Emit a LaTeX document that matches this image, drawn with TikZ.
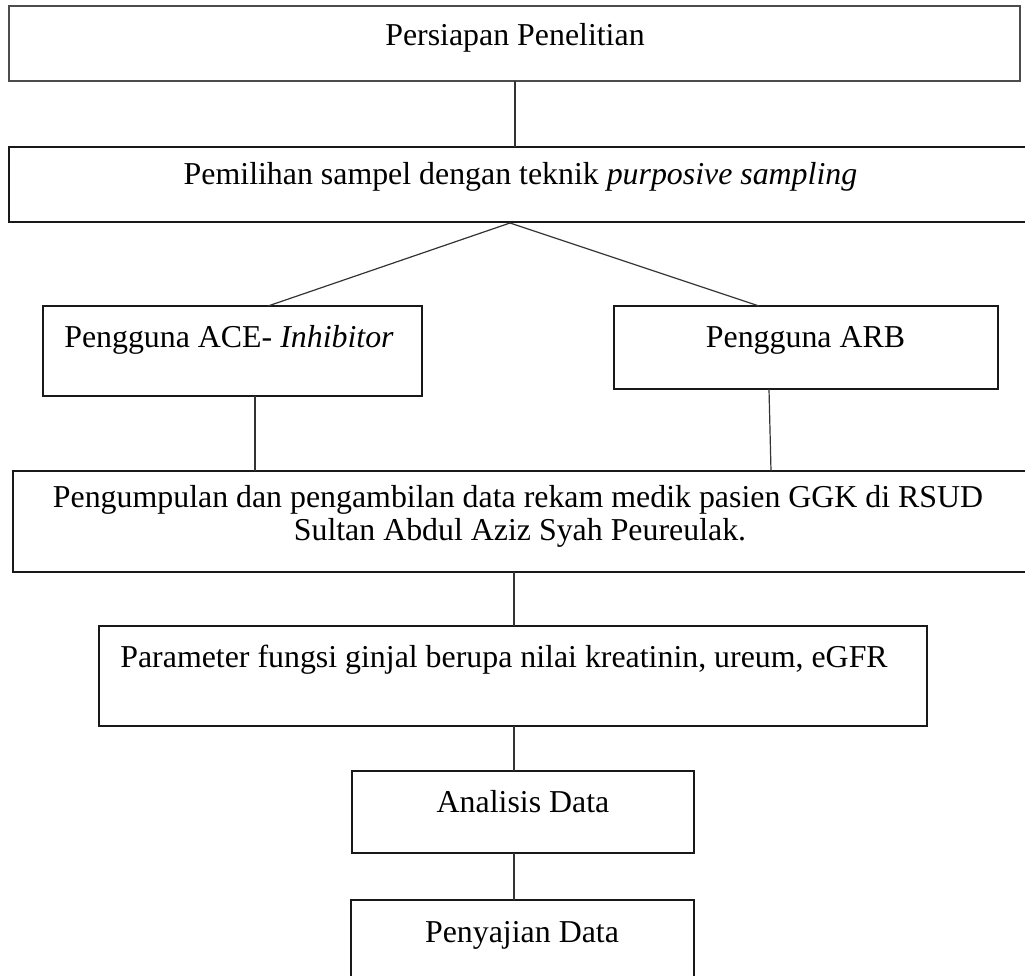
\documentclass[tikz,border=0pt]{standalone}
\usepackage{fontspec}
\setmainfont{Liberation Serif}
\usetikzlibrary{calc,fit}
\begin{document}
\begin{tikzpicture}[x=0.75pt,y=-0.75pt,
  box/.style={draw=black!90, line width=1pt, inner sep=0pt, outer sep=0pt},
  topbox/.style={box, draw=black!70, line width=1.2pt},
  txt/.style={anchor=base, inner sep=0pt, font=\fontsize{23.9}{32}\selectfont},
  conn/.style={draw=black!80, line width=0.9pt}]
\useasboundingbox (0,0) rectangle (1025,975);
\clip (0,0) rectangle (1025,975);

% boxes
\node[topbox, fit={(9,6) (1020,81)}] (b1) {};
\node[box, fit={(9,147) (1040,222)}] (b2) {};
\node[box, fit={(43,306) (422,396)}] (b3) {};
\node[box, fit={(614,306) (998,389)}] (b4) {};
\node[box, fit={(13,471) (1040,572)}] (b5) {};
\node[box, fit={(99,626) (927,726)}] (b6) {};
\node[box, fit={(352,771) (694,853)}] (b7) {};
\node[box, fit={(351,900) (694,1000)}] (b8) {};

% texts
\node[txt] (t1) at (515,45) {Persiapan Penelitian};
\node[txt] (t2) at (520.5,184) {Pemilihan sampel dengan teknik \textit{purposive sampling}};
\node[txt] (t3) at (229,347) {Pengguna ACE- \textit{Inhibitor}};
\node[txt] (t4) at (805.5,347) {Pengguna ARB};
\node[txt] (t5a) at (518,507) {Pengumpulan dan pengambilan data rekam medik pasien GGK di RSUD};
\node[txt] (t5b) at (520,540) {Sultan Abdul Aziz Syah Peureulak.};
\node[txt] (t6) at (504,667) {Parameter fungsi ginjal berupa nilai kreatinin, ureum, eGFR};
\node[txt] (t7) at (523,812) {Analisis Data};
\node[txt] (t8) at (522,942) {Penyajian Data};

% connectors
\draw[conn] (b1.south -| t1.base) -- (b2.north -| t1.base);
\coordinate (apex) at (510,223);
\coordinate (e3) at (268,306);
\coordinate (e4) at (759,306);
\draw[conn] (e3) -- (apex) -- (e4);
\coordinate (c3) at (255,396);
\draw[conn] (c3) -- (c3 |- b5.north);
\coordinate (c4) at (769,389);
\coordinate (c4b) at (771,471);
\draw[conn] (c4) -- (c4b);
\coordinate (sp) at (514,0);
\draw[conn] (b5.south -| sp) -- (b6.north -| sp);
\draw[conn] (b6.south -| sp) -- (b7.north -| sp);
\draw[conn] (b7.south -| sp) -- (b8.north -| sp);
\end{tikzpicture}
\end{document}
